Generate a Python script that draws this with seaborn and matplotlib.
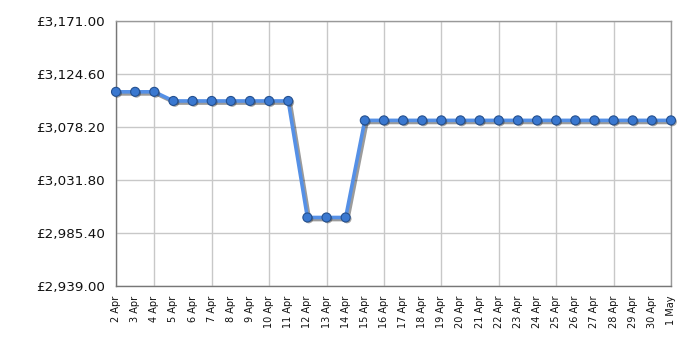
import matplotlib
matplotlib.use("Agg")
import matplotlib.pyplot as plt
import matplotlib.patheffects as pe
import seaborn as sns
import pandas as pd

dates = ["2 Apr", "3 Apr", "4 Apr", "5 Apr", "6 Apr", "7 Apr", "8 Apr", "9 Apr", "10 Apr",
         "11 Apr", "12 Apr", "13 Apr", "14 Apr", "15 Apr", "16 Apr", "17 Apr", "18 Apr",
         "19 Apr", "20 Apr", "21 Apr", "22 Apr", "23 Apr", "24 Apr", "25 Apr", "26 Apr",
         "27 Apr", "28 Apr", "29 Apr", "30 Apr", "1 May"]
prices = [3109, 3109, 3109, 3101, 3101, 3101, 3101, 3101, 3101,
          3101, 2999, 2999, 2999, 3084, 3084, 3084, 3084,
          3084, 3084, 3084, 3084, 3084, 3084, 3084, 3084,
          3084, 3084, 3084, 3084, 3084]
yticks = [2939.00, 2985.40, 3031.80, 3078.20, 3124.60, 3171.00]

df = pd.DataFrame({"idx": range(len(dates)), "price": prices})

sns.set_style("white")
plt.rcParams['font.family'] = ['DejaVu Sans']
fig = plt.figure(figsize=(7, 3.5), dpi=100)
ax = fig.add_axes([116/700, 1-286/350, (671-116)/700, (286-21)/350])

sns.lineplot(data=df, x="idx", y="price", ax=ax, color="#5590e6", linewidth=2.6, zorder=4,
             path_effects=[pe.SimpleLineShadow(offset=(1.5, -1.5), shadow_color="#222222", alpha=0.45),
                           pe.Normal()])
sns.scatterplot(data=df, x="idx", y="price", ax=ax, color="#3a78d0", s=42,
                edgecolor="#24508f", linewidth=0.8, zorder=5, clip_on=False,
                path_effects=[pe.SimplePatchShadow(offset=(1, -1), shadow_rgbFace="#222222", alpha=0.4),
                              pe.Normal()])

ax.set_xlim(0, len(dates) - 1)
ax.set_ylim(yticks[0], yticks[-1])
ax.set_yticks(yticks)
ax.set_yticklabels([f"£{v:,.2f}" for v in yticks], fontsize=9.7, color="#111111")

major = [0] + [i for i in range(2, len(dates), 3)]
minor = [i for i in range(len(dates)) if i not in major]
ax.set_xticks(major)
ax.set_xticklabels([dates[i] for i in major], rotation=90, fontsize=7, color="#111111")
ax.set_xticks(minor, minor=True)
ax.set_xticklabels([dates[i] for i in minor], minor=True, rotation=90, fontsize=7, color="#111111")
ax.tick_params(axis="x", which="major", length=5, width=1, color="#555555", pad=2)
ax.tick_params(axis="x", which="minor", length=0, pad=7)
ax.tick_params(axis="y", length=6, width=1, color="#333333", pad=2)
ax.xaxis.grid(True, which="major", color="#c8c8c8", linewidth=1)
ax.yaxis.grid(True, color="#c8c8c8", linewidth=1)
ax.set_xlabel("")
ax.set_ylabel("")
for s in ax.spines.values():
    s.set_color("#999999")
    s.set_linewidth(1)
ax.spines["left"].set_color("#777777")
ax.spines["bottom"].set_color("#777777")

fig.savefig("out.png", dpi=100)
